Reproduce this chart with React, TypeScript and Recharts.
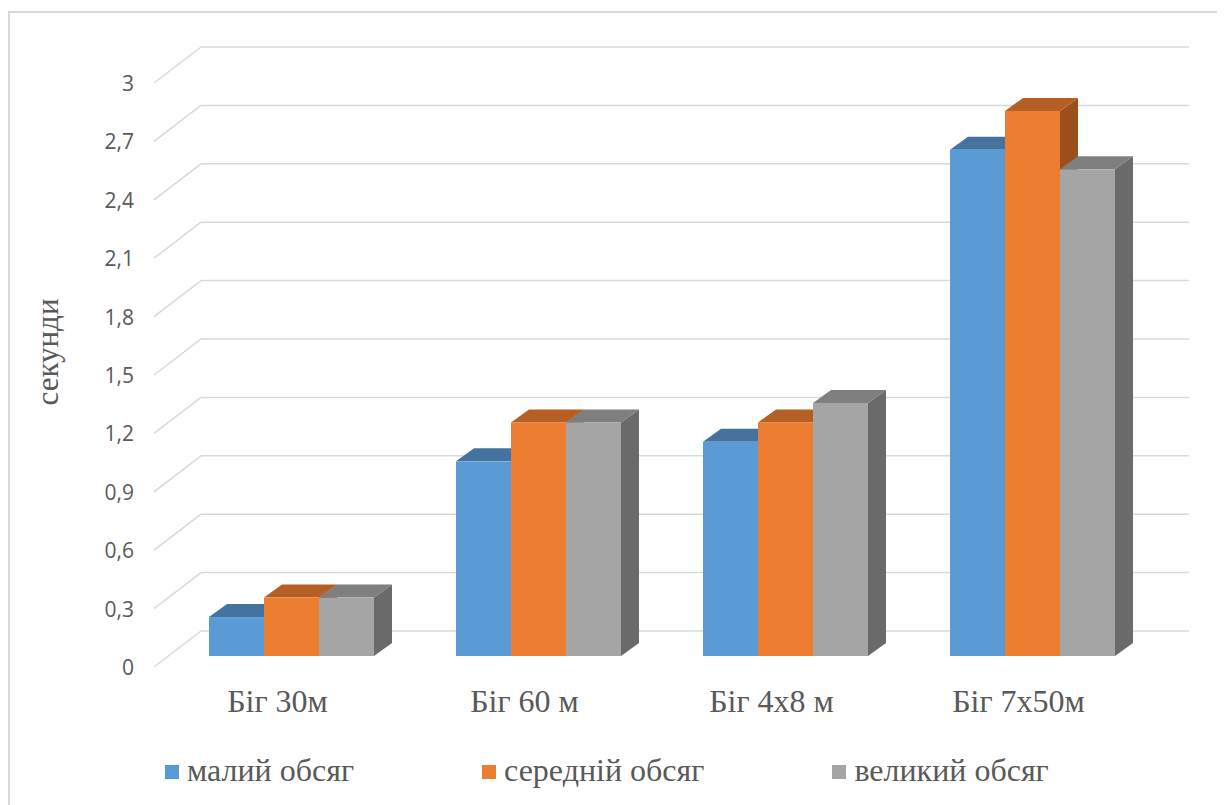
import React from 'react';
import { BarChart, Bar, XAxis, YAxis, CartesianGrid } from 'recharts';

const categories = ['Біг 30м', 'Біг 60 м', 'Біг 4х8 м', 'Біг 7х50м'];
const smallVolume = [0.2, 1.0, 1.1, 2.6];
const mediumVolume = [0.3, 1.2, 1.2, 2.8];
const largeVolume = [0.3, 1.2, 1.3, 2.5];
const yTicks = [0, 0.3, 0.6, 0.9, 1.2, 1.5, 1.8, 2.1, 2.4, 2.7, 3];

const seriesNames = ['малий обсяг', 'середній обсяг', 'великий обсяг'];

const palette = [
  { front: '#5b9bd5', top: '#44739f', side: '#3e6a93' },
  { front: '#ed7d31', top: '#b65f24', side: '#9c501c' },
  { front: '#a5a5a5', top: '#7f7f7f', side: '#6a6a6a' },
];

const W = 1217;
const H = 797;
const Y_AXIS_W = 60;
const X_AXIS_H = 40;
const MARGIN = { top: 64, right: 69, bottom: 109, left: 160 - Y_AXIS_W };
const PLOT_LEFT = MARGIN.left + Y_AXIS_W;
const PLOT_BOTTOM = H - MARGIN.bottom - X_AXIS_H;

// oblique 3d offsets
const BAR_DX = 18;
const BAR_DY = 13;
const WALL_DX = 33;
const WALL_DY = 25;
const FLOOR_DX = 14;
const FLOOR_DY = 11;

const textColor = '#595959';
const gridColor = '#d9d9d9';
const serif = "'Liberation Serif', 'Times New Roman', serif";

const data = categories.map((name, i) => ({
  name,
  small: smallVolume[i],
  medium: mediumVolume[i],
  large: largeVolume[i],
}));

const makeBarShape = (colors: { front: string; top: string; side: string }) => (props: any) => {
  const { x, y, width, height } = props;
  if (width == null || height == null) return null;
  const top = `M${x},${y} L${x + BAR_DX},${y - BAR_DY} L${x + width + BAR_DX},${y - BAR_DY} L${x + width},${y} Z`;
  const side = `M${x + width},${y} L${x + width + BAR_DX},${y - BAR_DY} L${x + width + BAR_DX},${y + height - BAR_DY} L${x + width},${y + height} Z`;
  return (
    <g>
      <path d={side} fill={colors.side} />
      <path d={top} fill={colors.top} />
      <rect x={x} y={y} width={width} height={height} fill={colors.front} />
    </g>
  );
};

const gridLine = (props: any) => {
  const { x1, x2, y1 } = props;
  return (
    <g key={`grid-${y1}`}>
      <line
        x1={x1 - FLOOR_DX}
        y1={y1 + FLOOR_DY}
        x2={x1 + WALL_DX}
        y2={y1 - WALL_DY}
        stroke={gridColor}
        strokeWidth={1.5}
      />
      <line
        x1={x1 + WALL_DX}
        y1={y1 - WALL_DY}
        x2={x2 + WALL_DX}
        y2={y1 - WALL_DY}
        stroke={gridColor}
        strokeWidth={1.5}
      />
    </g>
  );
};

const YTick = (props: any) => {
  const { y, payload } = props;
  return (
    <text
      x={PLOT_LEFT - FLOOR_DX - 20}
      y={y + FLOOR_DY}
      textAnchor="end"
      dominantBaseline="central"
      fill={textColor}
      fontFamily="'Open Sans', sans-serif"
      fontSize={21}
    >
      {String(payload.value).replace('.', ',')}
    </text>
  );
};

const XTick = (props: any) => {
  const { x, payload } = props;
  return (
    <text
      x={x - FLOOR_DX}
      y={PLOT_BOTTOM + 56}
      textAnchor="middle"
      fill={textColor}
      fontFamily={serif}
      fontSize={32}
    >
      {payload.value}
    </text>
  );
};

export default function App() {
  const keys = ['small', 'medium', 'large'];
  return (
    <div style={{ position: 'relative', width: W, height: H }}>
      <div
        style={{
          position: 'absolute',
          left: 0,
          top: 3,
          width: W - 2,
          height: H - 5,
          borderLeft: `2px solid ${gridColor}`,
          borderTop: `2px solid ${gridColor}`,
        }}
      />
      <div style={{ position: 'absolute', left: 0, top: 0 }}>
        <BarChart
          width={W}
          height={H}
          data={data}
          margin={MARGIN}
          barCategoryGap="16.6%"
          barGap={0}
        >
          <CartesianGrid horizontal={gridLine} vertical={false} />
          <XAxis
            dataKey="name"
            axisLine={false}
            tickLine={false}
            height={X_AXIS_H}
            tick={<XTick />}
            interval={0}
          />
          <YAxis
            domain={[0, 3]}
            ticks={yTicks}
            width={Y_AXIS_W}
            axisLine={false}
            tickLine={false}
            tick={<YTick />}
            interval={0}
          />
          {keys.map((k, i) => (
            <Bar
              key={k}
              dataKey={k}
              name={seriesNames[i]}
              fill={palette[i].front}
              shape={makeBarShape(palette[i])}
              isAnimationActive={false}
            />
          ))}
        </BarChart>
      </div>
      <div
        style={{
          position: 'absolute',
          left: 20,
          top: 274,
          width: 40,
          height: 140,
          display: 'flex',
          alignItems: 'center',
          justifyContent: 'center',
        }}
      >
        <div
          style={{
            transform: 'rotate(-90deg)',
            whiteSpace: 'nowrap',
            fontFamily: serif,
            fontSize: 31,
            color: textColor,
          }}
        >
          секунди
        </div>
      </div>
      <div
        style={{
          position: 'absolute',
          left: 157,
          top: 742,
          display: 'flex',
          gap: 128,
          fontFamily: serif,
          fontSize: 32,
          lineHeight: '40px',
          color: textColor,
        }}
      >
        {seriesNames.map((name, i) => (
          <div key={name} style={{ display: 'flex', alignItems: 'center' }}>
            <span
              style={{
                display: 'inline-block',
                width: 14,
                height: 14,
                background: palette[i].front,
                marginRight: 8,
                marginTop: 4,
              }}
            />
            <span>{name}</span>
          </div>
        ))}
      </div>
    </div>
  );
}
